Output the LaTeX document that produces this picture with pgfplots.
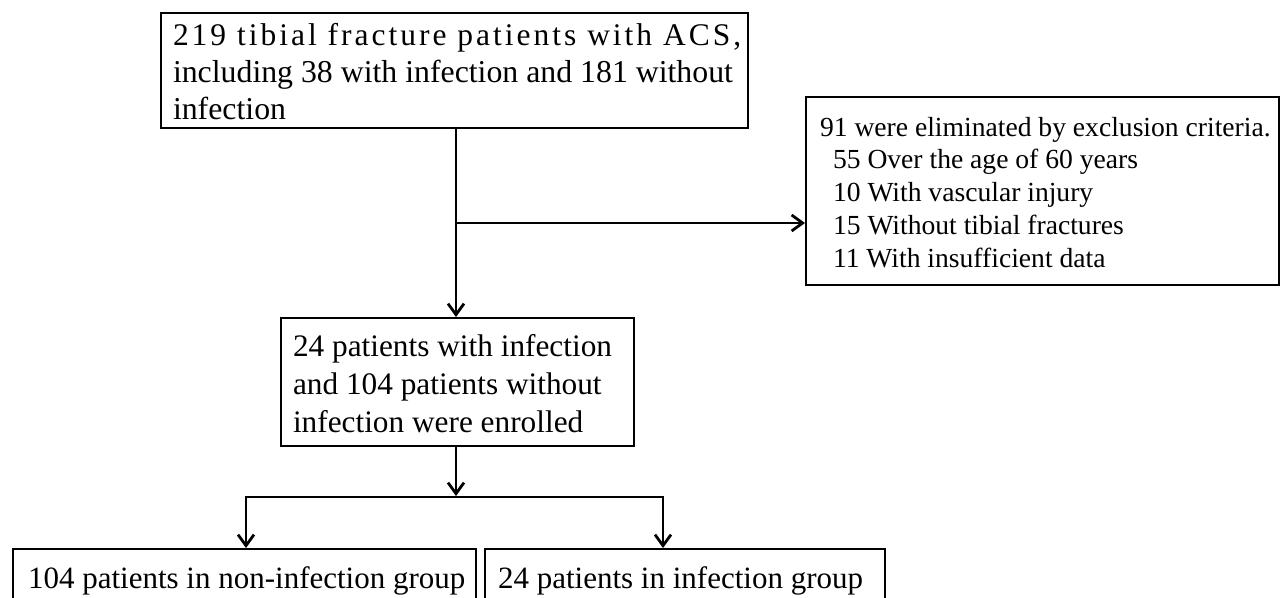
\documentclass[border=0pt]{standalone}
\usepackage{pgfplots}
\pgfplotsset{compat=1.18}
\usepackage{fontspec}
\setmainfont{Liberation Serif}
\newfontfamily\spaced[LetterSpace=9.5]{Liberation Serif}
\usetikzlibrary{arrows.meta}
\tikzset{txt/.style={inner sep=0pt, outer sep=0pt, anchor=base west}}
\begin{document}
\begin{tikzpicture}
\begin{axis}[
  width=1281pt, height=597pt, scale only axis,
  xmin=0, xmax=1281, ymin=0, ymax=597, y dir=reverse,
  hide axis, clip=true,
]
% boxes
\addplot[black, line width=2.3pt, line cap=rect, line join=miter, mark=none] coordinates {(161,13) (748,13) (748,128) (161,128) (161,13)};
\addplot[black, line width=2.3pt, line cap=rect, line join=miter, mark=none] coordinates {(806,97) (1279,97) (1279,285) (806,285) (806,97)};
\addplot[black, line width=2.3pt, line cap=rect, line join=miter, mark=none] coordinates {(281,318) (634,318) (634,446) (281,446) (281,318)};
\addplot[black, line width=2.3pt, line cap=rect, line join=miter, mark=none] coordinates {(13,620) (13,549) (476,549) (476,620)};
\addplot[black, line width=2.3pt, line cap=rect, line join=miter, mark=none] coordinates {(485,620) (485,549) (885,549) (885,620)};
% connectors
\addplot[black, line width=2.8pt, mark=none, -{Straight Barb[length=11pt,width=16pt,line width=2.8pt]}] coordinates {(456,128) (456,317)};
\addplot[black, line width=2.8pt, mark=none, -{Straight Barb[length=11pt,width=16pt,line width=2.8pt]}] coordinates {(456,223) (805,223)};
\addplot[black, line width=2.8pt, mark=none, -{Straight Barb[length=11pt,width=16pt,line width=2.8pt]}] coordinates {(456,446) (456,496)};
\addplot[black, line width=2.8pt, line cap=rect, mark=none] coordinates {(246,497) (663,497)};
\addplot[black, line width=2.8pt, mark=none, -{Straight Barb[length=11pt,width=16pt,line width=2.8pt]}] coordinates {(246,497) (246,548)};
\addplot[black, line width=2.8pt, mark=none, -{Straight Barb[length=11pt,width=16pt,line width=2.8pt]}] coordinates {(663,497) (663,548)};
% text box 1
\node[txt] at (axis cs:173,45) {\fontsize{31.5}{38}\spaced 219 tibial fracture patients with ACS,};
\node[txt] at (axis cs:173,82) {\fontsize{31.8}{38}\selectfont including 38 with infection and 181 without};
\node[txt] at (axis cs:173,119) {\fontsize{31.8}{38}\selectfont infection};
% text box 2
\node[txt] at (axis cs:820,136) {\fontsize{27.6}{32}\selectfont 91 were eliminated by exclusion criteria.};
\node[txt] at (axis cs:833,168) {\fontsize{27.6}{32}\selectfont 55 Over the age of 60 years};
\node[txt] at (axis cs:833,201) {\fontsize{27.6}{32}\selectfont 10 With vascular injury};
\node[txt] at (axis cs:833,234) {\fontsize{27.6}{32}\selectfont 15 Without tibial fractures};
\node[txt] at (axis cs:833,267) {\fontsize{27.6}{32}\selectfont 11 With insufficient data};
% text box 3
\node[txt] at (axis cs:293,356) {\fontsize{31.3}{38}\selectfont 24 patients with infection};
\node[txt] at (axis cs:293,394) {\fontsize{31.3}{38}\selectfont and 104 patients without};
\node[txt] at (axis cs:293,432) {\fontsize{31.3}{38}\selectfont infection were enrolled};
% bottom boxes
\node[txt] at (axis cs:28,588) {\fontsize{31}{38}\selectfont 104 patients in non-infection group};
\node[txt] at (axis cs:498,588) {\fontsize{31}{38}\selectfont 24 patients in infection group};
\coordinate (a) at (axis cs:0,0);
\coordinate (b) at (axis cs:1281,597);
\end{axis}
\pgfresetboundingbox
\path[use as bounding box] (a) rectangle (b);
\end{tikzpicture}
\end{document}
